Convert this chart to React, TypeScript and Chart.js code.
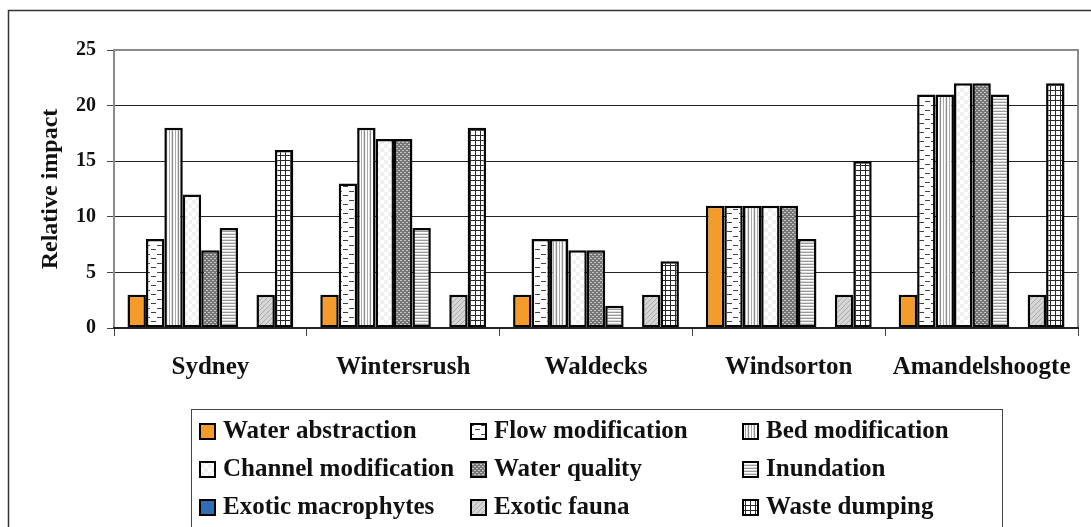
import { useEffect, useRef } from 'react';
import { Chart, registerables } from 'chart.js';

Chart.register(...registerables);

const sites = ['Sydney', 'Wintersrush', 'Waldecks', 'Windsorton', 'Amandelshoogte'];
const waterAbstraction = [3, 3, 3, 11, 3];
const flowModification = [8, 13, 8, 11, 21];
const bedModification = [18, 18, 8, 11, 21];
const channelModification = [12, 17, 7, 11, 22];
const waterQuality = [7, 17, 7, 11, 22];
const inundation = [9, 9, 2, 8, 21];
const exoticMacrophytes = [0, 0, 0, 0, 0];
const exoticFauna = [3, 3, 3, 3, 3];
const wasteDumping = [16, 18, 6, 15, 22];
const seriesNames = [
  'Water abstraction',
  'Flow modification',
  'Bed modification',
  'Channel modification',
  'Water quality',
  'Inundation',
  'Exotic macrophytes',
  'Exotic fauna',
  'Waste dumping',
];
const yMin = 0;
const yMax = 25;
const yStep = 5;
const yTitle = 'Relative impact';

const FONT = '"Liberation Serif", "Times New Roman", serif';

function makePattern(w: number, h: number, draw: (g: CanvasRenderingContext2D) => void) {
  const c = document.createElement('canvas');
  c.width = w;
  c.height = h;
  const g = c.getContext('2d')!;
  draw(g);
  return g.createPattern(c, 'repeat')!;
}

function buildFills() {
  const flow = makePattern(12, 9, (g) => {
    g.fillStyle = '#fff';
    g.fillRect(0, 0, 12, 9);
    g.fillStyle = '#444';
    g.fillRect(1, 2, 5, 1);
    g.fillRect(7, 6, 5, 1);
  });
  const bed = makePattern(6, 1, (g) => {
    const cols = ['#ffffff', '#a8a8a8', '#ffffff', '#dddddd', '#8c8c8c', '#f2f2f2'];
    cols.forEach((c, i) => {
      g.fillStyle = c;
      g.fillRect(i, 0, 1, 1);
    });
  });
  const channel = makePattern(8, 8, (g) => {
    g.fillStyle = '#fff';
    g.fillRect(0, 0, 8, 8);
    g.fillStyle = '#f0f0f0';
    g.fillRect(0, 0, 4, 4);
    g.fillRect(4, 4, 4, 4);
  });
  const quality = makePattern(4, 4, (g) => {
    g.fillStyle = '#767676';
    g.fillRect(0, 0, 4, 4);
    g.fillStyle = '#c8c8c8';
    g.fillRect(0, 0, 2, 1);
    g.fillRect(2, 2, 2, 1);
  });
  const inund = makePattern(1, 3, (g) => {
    const rows = ['#9a9a9a', '#ffffff', '#dcdcdc'];
    rows.forEach((c, i) => {
      g.fillStyle = c;
      g.fillRect(0, i, 1, 1);
    });
  });
  const fauna = makePattern(5, 5, (g) => {
    g.fillStyle = '#d6d6d6';
    g.fillRect(0, 0, 5, 5);
    g.fillStyle = '#ababab';
    for (let i = 0; i < 5; i++) g.fillRect(i, 4 - i, 1, 1);
  });
  const waste = makePattern(5, 5, (g) => {
    g.fillStyle = '#fff';
    g.fillRect(0, 0, 5, 5);
    g.fillStyle = '#2a2a2a';
    g.fillRect(0, 0, 5, 1);
    g.fillRect(0, 0, 1, 5);
  });
  return ['#F49B2C', flow, bed, channel, quality, inund, '#2F6DB5', fauna, waste];
}

const framePlugin = {
  id: 'frames',
  beforeDraw(chart: any) {
    const { ctx, width, height } = chart;
    ctx.save();
    ctx.fillStyle = '#fff';
    ctx.fillRect(0, 0, width, height);
    ctx.restore();
  },
  afterDatasetsDraw(chart: any) {
    const { ctx, chartArea } = chart;
    const { left, right, top, bottom } = chartArea;
    ctx.save();
    ctx.lineWidth = 2;
    ctx.strokeStyle = '#8a8a8a';
    ctx.beginPath();
    ctx.moveTo(left, bottom);
    ctx.lineTo(left, top);
    ctx.lineTo(right, top);
    ctx.lineTo(right, bottom);
    ctx.stroke();
    ctx.strokeStyle = '#222';
    ctx.beginPath();
    ctx.moveTo(left - 1, bottom);
    ctx.lineTo(right + 1, bottom);
    ctx.stroke();
    ctx.restore();
  },
  afterDraw(chart: any) {
    const { ctx } = chart;
    ctx.save();
    // outer chart frame
    ctx.strokeStyle = '#333';
    ctx.lineWidth = 1.5;
    ctx.strokeRect(8.5, 10.5, 1200, 700);
    // legend frame
    ctx.lineWidth = 1;
    ctx.strokeStyle = '#444';
    ctx.strokeRect(191.5, 409.5, 811, 300);
    const cols = [199, 470, 742];
    const rows = [431, 469, 507];
    ctx.font = `bold 25px ${FONT}`;
    ctx.textBaseline = 'middle';
    ctx.textAlign = 'left';
    chart.data.datasets.forEach((ds: any, i: number) => {
      const x = cols[i % 3];
      const y = rows[Math.floor(i / 3)];
      ctx.fillStyle = ds.backgroundColor;
      ctx.fillRect(x, y - 8, 17, 17);
      ctx.lineWidth = 2;
      ctx.strokeStyle = '#000';
      ctx.strokeRect(x + 1, y - 7, 15, 15);
      ctx.fillStyle = '#111';
      ctx.fillText(ds.label, x + 24, y + 1);
    });
    ctx.restore();
  },
};

export default function App() {
  const ref = useRef<HTMLCanvasElement>(null);

  useEffect(() => {
    if (!ref.current) return;
    const fills = buildFills();
    const values = [
      waterAbstraction,
      flowModification,
      bedModification,
      channelModification,
      waterQuality,
      inundation,
      exoticMacrophytes,
      exoticFauna,
      wasteDumping,
    ];
    const chart = new Chart(ref.current, {
      type: 'bar',
      data: {
        labels: sites,
        datasets: values.map((d, i) => ({
          label: seriesNames[i],
          data: d,
          backgroundColor: fills[i] as any,
          borderColor: '#050505',
          borderWidth: 2.5,
          borderSkipped: false,
          barPercentage: 1,
          categoryPercentage: 0.86,
        })),
      },
      options: {
        responsive: false,
        animation: false,
        devicePixelRatio: 1,
        layout: { padding: { left: 8, right: 13, top: 50, bottom: 139 } },
        plugins: {
          legend: { display: false },
          tooltip: { enabled: false },
        },
        scales: {
          x: {
            offset: true,
            afterFit: (s: any) => {
              s.height = 60;
            },
            grid: {
              display: true,
              offset: true,
              drawOnChartArea: false,
              tickLength: 8,
              color: '#444',
              lineWidth: 1,
            },
            border: { display: false },
            ticks: {
              color: '#111',
              padding: 17,
              maxRotation: 0,
              autoSkip: false,
              font: { family: FONT, size: 25, weight: 'bold' },
            },
          },
          y: {
            min: yMin,
            max: yMax,
            afterFit: (s: any) => {
              s.width = 106;
            },
            ticks: {
              stepSize: yStep,
              color: '#111',
              padding: 11,
              font: { family: FONT, size: 20, weight: 'bold' },
            },
            grid: {
              tickLength: 7,
              tickColor: '#444',
              color: (c: any) =>
                c.tick && (c.tick.value === yMax || c.tick.value === yMin) ? 'rgba(0,0,0,0)' : '#222',
              lineWidth: 1,
            },
            border: { display: false },
            title: {
              display: true,
              text: yTitle,
              color: '#111',
              padding: { top: 28, bottom: 0 },
              font: { family: FONT, size: 24, weight: 'bold' },
            },
          },
        },
      },
      plugins: [framePlugin],
    });
    return () => chart.destroy();
  }, []);

  return (
    <div style={{ position: 'absolute', left: 0, top: 0, width: 1091, height: 527, overflow: 'hidden' }}>
      <canvas ref={ref} width={1091} height={527} style={{ display: 'block', width: 1091, height: 527 }} />
    </div>
  );
}
